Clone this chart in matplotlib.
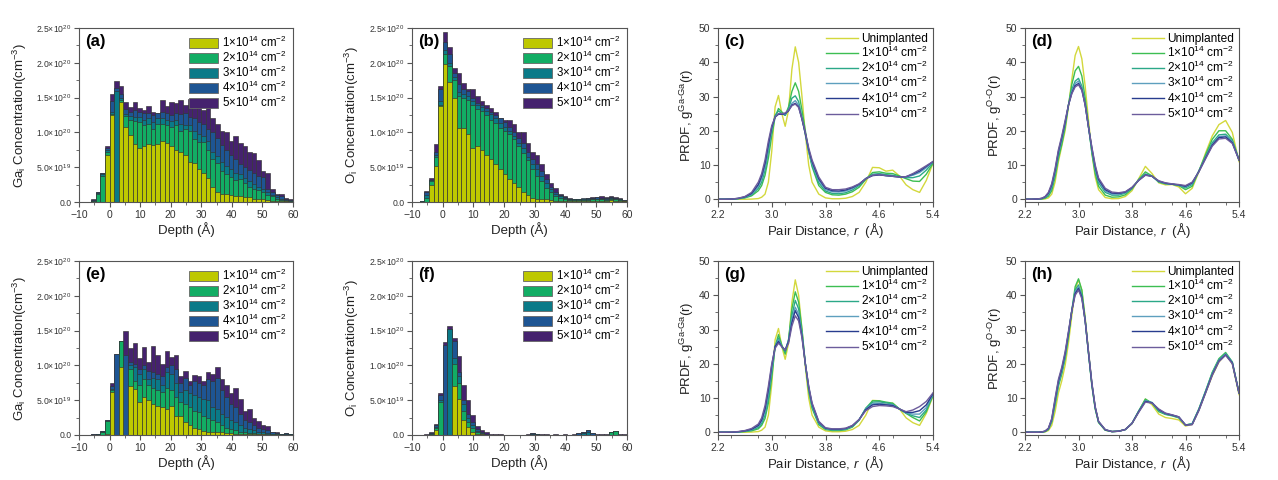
import numpy as np
import matplotlib.pyplot as plt
from matplotlib.ticker import MultipleLocator
from matplotlib.patches import Patch

plt.rcParams['font.family'] = ['Liberation Sans', 'DejaVu Sans']
plt.rcParams['mathtext.fontset'] = 'custom'
plt.rcParams['mathtext.rm'] = 'Liberation Sans'
plt.rcParams['mathtext.it'] = 'Liberation Sans:italic'
plt.rcParams['mathtext.bf'] = 'Liberation Sans:bold'

# ---- depth histogram data (units of 1e20 cm^-3), bins of 1.5 A ----
depth = np.arange(-6.75, 60, 1.5)

a_1 = [0, 0, 0, 0, 0.67, 1.25, 0, 1.44, 1.08, 0.96,
       0.84, 0.78, 0.80, 0.83, 0.82, 0.84, 0.87, 0.85, 0.80, 0.75,
       0.72, 0.68, 0.57, 0.56, 0.47, 0.42, 0.34, 0.22, 0.14, 0.12,
       0.11, 0.10, 0.09, 0.08, 0.07, 0.07, 0.05, 0.04, 0.04, 0.03,
       0.02, 0.02, 0.01, 0.01, 0.0]
a_2 = [0, 0.01, 0.12, 0.38, 0.72, 1.27, 0, 1.46, 1.24, 1.18,
       1.17, 1.15, 1.10, 1.12, 1.05, 1.12, 1.12, 1.10, 1.08, 1.10,
       1.02, 1.05, 1.02, 0.90, 0.86, 0.86, 0.75, 0.62, 0.56, 0.45,
       0.40, 0.36, 0.32, 0.33, 0.28, 0.22, 0.18, 0.17, 0.14, 0.10,
       0.08, 0.05, 0.03, 0.02, 0.01]
a_3 = [0, 0.02, 0.13, 0.40, 0.75, 1.30, 1.60, 1.50, 1.27, 1.24,
       1.22, 1.22, 1.18, 1.20, 1.15, 1.20, 1.20, 1.18, 1.16, 1.18,
       1.12, 1.10, 1.10, 1.02, 0.98, 0.95, 0.88, 0.72, 0.66, 0.58,
       0.52, 0.48, 0.42, 0.40, 0.35, 0.30, 0.26, 0.22, 0.18, 0.14,
       0.10, 0.07, 0.05, 0.03, 0.02]
a_4 = [0, 0.03, 0.14, 0.41, 0.78, 1.45, 1.64, 1.55, 1.33, 1.30,
       1.32, 1.30, 1.28, 1.28, 1.25, 1.28, 1.30, 1.28, 1.25, 1.28,
       1.26, 1.28, 1.22, 1.20, 1.15, 1.12, 1.05, 1.00, 0.92, 0.82,
       0.75, 0.68, 0.62, 0.55, 0.50, 0.46, 0.42, 0.38, 0.36, 0.18,
       0.14, 0.10, 0.08, 0.05, 0.03]
a_5 = [0, 0.04, 0.15, 0.42, 0.81, 1.55, 1.74, 1.66, 1.44, 1.36,
       1.43, 1.35, 1.32, 1.38, 1.30, 1.28, 1.47, 1.38, 1.44, 1.42,
       1.47, 1.40, 1.48, 1.35, 1.46, 1.32, 1.42, 1.20, 1.12, 1.02,
       1.00, 0.88, 0.95, 0.85, 0.80, 0.72, 0.70, 0.60, 0.45, 0.42,
       0.18, 0.12, 0.12, 0.06, 0.04]

b_1 = [0, 0, 0.25, 0.52, 1.38, 1.98, 1.72, 1.50, 1.07, 1.07,
       0.97, 0.78, 0.80, 0.75, 0.68, 0.62, 0.55, 0.47, 0.40, 0.33,
       0.27, 0.21, 0.15, 0.10, 0.06, 0.05, 0.05, 0.04, 0.03, 0.02,
       0.02, 0.01, 0.02, 0.01, 0.01, 0.01, 0.01, 0.01, 0.02, 0.01,
       0.02, 0.03, 0.02, 0.01, 0.01]
b_2 = [0, 0.06, 0.30, 0.64, 1.40, 2.12, 1.95, 1.76, 1.53, 1.50,
       1.47, 1.40, 1.33, 1.31, 1.25, 1.18, 1.13, 1.06, 1.02, 0.98,
       0.90, 0.80, 0.70, 0.60, 0.48, 0.38, 0.30, 0.20, 0.14, 0.09,
       0.06, 0.04, 0.03, 0.03, 0.03, 0.03, 0.03, 0.04, 0.04, 0.04,
       0.03, 0.05, 0.04, 0.03, 0.02]
b_3 = [0.01, 0.10, 0.31, 0.68, 1.45, 2.18, 2.00, 1.80, 1.58, 1.55,
       1.52, 1.45, 1.40, 1.36, 1.31, 1.26, 1.20, 1.14, 1.08, 1.02,
       0.95, 0.85, 0.78, 0.65, 0.55, 0.48, 0.38, 0.28, 0.18, 0.12,
       0.08, 0.06, 0.04, 0.04, 0.04, 0.04, 0.04, 0.05, 0.05, 0.05,
       0.04, 0.06, 0.05, 0.04, 0.02]
b_4 = [0.02, 0.14, 0.32, 0.72, 1.62, 2.30, 2.12, 1.85, 1.70, 1.62,
       1.60, 1.50, 1.42, 1.40, 1.35, 1.30, 1.25, 1.20, 1.15, 1.08,
       1.00, 0.92, 0.85, 0.72, 0.62, 0.55, 0.45, 0.33, 0.22, 0.15,
       0.10, 0.07, 0.05, 0.05, 0.05, 0.06, 0.06, 0.06, 0.07, 0.06,
       0.06, 0.07, 0.06, 0.05, 0.03]
b_5 = [0.02, 0.16, 0.35, 0.83, 1.66, 2.44, 2.23, 1.92, 1.85, 1.71,
       1.62, 1.62, 1.52, 1.45, 1.40, 1.35, 1.30, 1.20, 1.18, 1.18,
       1.12, 1.00, 1.00, 0.85, 0.72, 0.68, 0.55, 0.40, 0.28, 0.20,
       0.12, 0.08, 0.06, 0.05, 0.05, 0.05, 0.06, 0.07, 0.07, 0.08,
       0.07, 0.09, 0.07, 0.06, 0.03]

e_1 = [0, 0, 0, 0, 0.02, 0.62, 0, 0.97, 0, 0.70,
       0.66, 0.48, 0.55, 0.50, 0.45, 0.42, 0.40, 0.38, 0.42, 0.28,
       0.28, 0.18, 0.14, 0.10, 0.08, 0.06, 0.05, 0.05, 0.05, 0.04,
       0.03, 0.03, 0.02, 0.02, 0.01, 0.01, 0.01, 0.01, 0.01, 0.0,
       0.0, 0.0, 0.0, 0.0, 0.0]
e_2 = [0, 0, 0, 0.05, 0.20, 0.64, 0, 1.35, 0, 0.95,
       0.78, 0.72, 0.80, 0.72, 0.68, 0.65, 0.62, 0.68, 0.65, 0.55,
       0.48, 0.45, 0.40, 0.35, 0.33, 0.28, 0.25, 0.22, 0.18, 0.15,
       0.10, 0.08, 0.07, 0.05, 0.04, 0.03, 0.03, 0.02, 0.02, 0.02,
       0.01, 0.01, 0.0, 0.0, 0.0]
e_3 = [0, 0, 0.01, 0.05, 0.20, 0.66, 0, 1.35, 0, 1.00,
       0.98, 0.88, 0.95, 0.80, 0.82, 0.80, 0.72, 0.90, 0.88, 0.75,
       0.62, 0.65, 0.60, 0.58, 0.55, 0.52, 0.50, 0.40, 0.38, 0.30,
       0.26, 0.22, 0.18, 0.15, 0.10, 0.08, 0.07, 0.05, 0.04, 0.03,
       0.02, 0.01, 0.01, 0.01, 0.01]
e_4 = [0, 0.01, 0.02, 0.06, 0.21, 0.70, 1.17, 1.35, 1.15, 1.05,
       1.02, 0.95, 1.00, 0.92, 0.90, 0.88, 0.85, 0.98, 1.00, 0.95,
       0.75, 0.82, 0.72, 0.78, 0.75, 0.72, 0.80, 0.78, 0.82, 0.65,
       0.55, 0.45, 0.40, 0.30, 0.22, 0.18, 0.14, 0.10, 0.08, 0.07,
       0.04, 0.03, 0.02, 0.03, 0.02]
e_5 = [0, 0.01, 0.02, 0.06, 0.22, 0.74, 1.17, 1.35, 1.49, 1.25,
       1.32, 1.10, 1.27, 1.05, 1.28, 1.15, 1.02, 1.20, 1.12, 1.15,
       0.85, 0.92, 0.78, 0.86, 0.85, 0.78, 0.90, 0.88, 0.97, 0.80,
       0.72, 0.60, 0.68, 0.52, 0.35, 0.38, 0.25, 0.20, 0.14, 0.13,
       0.05, 0.04, 0.02, 0.03, 0.02]

f_1 = [0, 0, 0, 0.07, 0, 0, 0, 0.70, 0.52, 0.22,
       0.12, 0.05, 0.02, 0.01, 0, 0, 0, 0, 0, 0,
       0, 0, 0, 0, 0, 0, 0, 0, 0, 0,
       0, 0, 0, 0, 0, 0, 0, 0, 0, 0,
       0, 0, 0, 0, 0]
f_2 = [0, 0, 0.02, 0.10, 0.48, 0, 0, 1.02, 0.75, 0.35,
       0.18, 0.10, 0.04, 0.02, 0, 0, 0, 0, 0, 0,
       0, 0, 0, 0, 0, 0, 0, 0, 0, 0,
       0, 0, 0, 0, 0, 0, 0, 0, 0, 0,
       0, 0.05, 0.06, 0, 0]
f_3 = [0, 0, 0.02, 0.12, 0.50, 0, 1.52, 1.10, 0.85, 0.45,
       0.25, 0.14, 0.06, 0.03, 0, 0, 0, 0, 0, 0,
       0, 0, 0, 0, 0.02, 0.02, 0, 0, 0, 0,
       0, 0, 0, 0, 0, 0.03, 0.04, 0, 0, 0,
       0, 0.05, 0.06, 0, 0]
f_4 = [0, 0, 0.03, 0.14, 0.58, 1.30, 1.53, 1.35, 0.90, 0.50,
       0.30, 0.18, 0.08, 0.04, 0.02, 0, 0, 0, 0, 0,
       0, 0, 0, 0, 0.03, 0.02, 0, 0, 0, 0,
       0, 0, 0, 0, 0.03, 0.05, 0.07, 0.03, 0, 0,
       0, 0.05, 0.06, 0, 0]
f_5 = [0, 0.01, 0.04, 0.16, 0.61, 1.34, 1.56, 1.39, 1.13, 0.72,
       0.50, 0.29, 0.13, 0.07, 0.05, 0.02, 0.01, 0.01, 0, 0,
       0, 0, 0, 0.02, 0.03, 0.02, 0.01, 0.01, 0, 0.01,
       0, 0.01, 0, 0.01, 0.03, 0.05, 0.07, 0.03, 0.01, 0.02,
       0.01, 0.05, 0.06, 0.02, 0.01]

# ---- PRDF data ----
r_gaga = [2.2, 2.3, 2.4, 2.5, 2.6, 2.7, 2.8,
          2.85, 2.9, 2.95, 3.0, 3.05, 3.1, 3.15, 3.2, 3.25, 3.3, 3.35, 3.4, 3.45, 3.5, 3.55, 3.6,
          3.7, 3.8, 3.9, 4.0, 4.1, 4.2, 4.3, 4.4, 4.5, 4.6, 4.7, 4.8, 4.9, 5.0, 5.1, 5.2, 5.3, 5.4]

gaga_unimp = [0, 0, 0, 0, 0, 0.05, 0.2,
              0.6, 1.5, 5, 14, 27, 30.3, 25, 21.3, 26, 38, 44.5, 40, 30, 19, 10, 5,
              1.5, 0.4, 0.15, 0.15, 0.3, 0.8, 2, 5, 9.3, 9.2, 8.2, 8.5, 6.8, 4.2, 2.8, 2.0, 5.5, 10.5]
c_1 = [0, 0, 0, 0.15, 0.4, 1.0, 2.5,
       4, 7, 12, 18.5, 24, 26.5, 25.5, 24.5, 27, 31.5, 34, 31.5, 26, 20, 14, 9.5,
       4, 2, 1.3, 1.2, 1.5, 2.2, 3.5, 5.8, 7.8, 8.0, 7.6, 7.5, 6.8, 6.0, 5.3, 5.2, 7.3, 10.5]
c_2 = [0, 0, 0.05, 0.2, 0.5, 1.3, 3.2,
       5, 8.5, 14, 20, 24.5, 25.8, 25, 24.5, 26.5, 29.5, 30.2, 28.5, 24, 19, 14, 10,
       4.8, 2.4, 1.7, 1.6, 1.9, 2.7, 4, 6, 7.3, 7.5, 7.2, 7.0, 6.6, 6.3, 6.3, 6.8, 8.5, 10.8]
c_3 = [0, 0, 0.05, 0.2, 0.6, 1.5, 3.8,
       6, 9.5, 15, 20.5, 24, 25, 24.8, 24.8, 26, 28, 28.8, 27.5, 23.5, 19, 14, 10.5,
       5.5, 2.8, 2.2, 2.1, 2.4, 3.1, 4.3, 6.1, 7.0, 7.2, 6.9, 6.7, 6.5, 6.5, 7, 7.8, 9.2, 11]
c_4 = [0, 0, 0.05, 0.25, 0.7, 1.7, 4.3,
       6.8, 10.5, 16, 21, 24, 24.8, 24.8, 25, 25.8, 27.5, 28, 27, 23.3, 19.2, 14.5, 11,
       6, 3.2, 2.5, 2.4, 2.7, 3.4, 4.4, 6, 6.9, 7.1, 6.9, 6.7, 6.5, 6.6, 7.3, 8.2, 9.6, 11]
c_5 = [0, 0, 0.05, 0.3, 0.8, 2.0, 5,
       7.5, 11.5, 17, 21.5, 24, 25, 25, 25.2, 26, 27.3, 27.8, 26.8, 23.5, 19.5, 15, 11.5,
       6.5, 3.5, 2.8, 2.8, 3, 3.6, 4.5, 6, 7, 7.2, 6.9, 6.7, 6.5, 6.6, 7.5, 8.6, 9.8, 11]

g_1 = [0, 0, 0, 0.05, 0.2, 0.4, 1.0,
       2, 4, 8.5, 16, 25, 28.5, 25.5, 22.8, 27, 36, 41, 38, 30, 20, 12, 7,
       2.2, 0.8, 0.5, 0.5, 0.7, 1.5, 3.5, 7, 9.2, 9.2, 8.8, 8.5, 6.8, 5.5, 4.3, 3.3, 6, 10.8]
g_2 = [0, 0, 0, 0.1, 0.3, 0.6, 1.4,
       2.6, 5, 10, 17.5, 25, 27.5, 25, 23.5, 27, 34, 38.5, 36, 29, 20, 12.5, 7.5,
       2.5, 1.0, 0.7, 0.7, 0.9, 1.7, 3.6, 7, 8.8, 8.9, 8.6, 8.2, 6.8, 5.6, 4.8, 4.3, 6.5, 11]
g_3 = [0, 0, 0, 0.1, 0.35, 0.8, 1.8,
       3.2, 6, 11.5, 18.5, 25, 27, 25, 24, 26.8, 33, 36.5, 34.5, 28.5, 20, 13, 8,
       2.8, 1.1, 0.8, 0.8, 1, 1.8, 3.7, 6.8, 8.3, 8.5, 8.2, 8, 6.8, 5.7, 5.3, 5.3, 7.2, 11.2]
g_4 = [0, 0, 0, 0.15, 0.4, 0.9, 2,
       3.6, 6.8, 12.5, 19.5, 25, 26.5, 25, 24, 26.5, 32, 35.5, 33.5, 28, 20, 13.2, 8.3,
       3, 1.2, 0.9, 0.9, 1.1, 1.9, 3.7, 6.6, 8, 8.2, 8, 7.8, 6.8, 5.8, 5.8, 6.3, 8, 11.3]
g_5 = [0, 0, 0.05, 0.2, 0.5, 1.1, 2.4,
       4.2, 7.8, 13.5, 20, 24.5, 26, 25, 24, 26, 31, 34, 32.5, 27.5, 20, 13.5, 8.6,
       3.2, 1.3, 1.0, 1.0, 1.2, 2, 3.7, 6.3, 7.5, 7.8, 7.7, 7.5, 6.8, 6, 6.5, 7.5, 9, 11.5]

r_oo = [2.2, 2.3, 2.4, 2.45, 2.5, 2.55, 2.6, 2.65, 2.7, 2.75, 2.8, 2.85, 2.9, 2.95, 3.0,
        3.05, 3.1, 3.15, 3.2, 3.25, 3.3,
        3.4, 3.5, 3.6, 3.7, 3.8, 3.9, 4.0, 4.1, 4.2, 4.3, 4.4, 4.5, 4.6, 4.7, 4.8, 4.9, 5.0,
        5.1, 5.2, 5.3, 5.4]

d_unimp = [0, 0, 0, 0, 0.1, 0.4, 1.5, 5, 11, 15.5, 20, 27, 35, 42, 44.6, 41, 33, 23, 13.5, 6.5, 2.8,
           0.5, 0.15, 0.2, 0.8, 2.5, 6, 9.6, 7.5, 4.8, 4.2, 4.3, 3.6, 1.6, 3.2, 8, 13.5, 18.5, 21.8, 23, 19.5, 11]
d_1 = [0, 0, 0.05, 0.1, 0.3, 0.9, 2.5, 6.5, 12, 16, 21, 27.5, 33.5, 37.5, 38.8, 36, 29.5, 21.5, 13.5, 7.5, 3.8,
       1.2, 0.6, 0.7, 1.3, 3, 5.8, 8, 6.8, 5, 4.5, 4.4, 4, 2.8, 3.8, 8.3, 13, 17.5, 20, 20, 17.5, 11.5]
d_2 = [0, 0, 0.05, 0.15, 0.5, 1.3, 3.3, 7.5, 13, 17, 22, 27.5, 32, 34.5, 35.3, 33, 28, 21, 14, 8.5, 4.8,
       2, 1.2, 1.2, 1.8, 3.2, 5.7, 7.4, 6.7, 5.1, 4.6, 4.4, 4.1, 3.3, 4.3, 8.2, 12.5, 16.5, 18.8, 19, 17, 11.5]
d_3 = [0, 0, 0.08, 0.2, 0.6, 1.5, 3.8, 8, 13.5, 17.5, 22, 27.5, 31.5, 33.8, 34.5, 32.5, 27.5, 21, 14.5, 9, 5.3,
       2.4, 1.5, 1.5, 2, 3.3, 5.6, 7.2, 6.7, 5.2, 4.6, 4.4, 4.1, 3.6, 4.6, 8.2, 12.2, 16, 18.3, 18.5, 16.8, 11.5]
d_4 = [0, 0, 0.1, 0.25, 0.7, 1.8, 4.2, 8.5, 14, 18, 22.5, 27.5, 31, 33.2, 33.8, 32, 27.5, 21, 15, 9.5, 5.8,
       2.8, 1.8, 1.7, 2.1, 3.4, 5.5, 7.1, 6.7, 5.3, 4.7, 4.4, 4.2, 3.8, 4.8, 8.1, 12, 15.8, 18, 18.2, 16.5, 11.5]
d_5 = [0, 0.02, 0.12, 0.3, 0.8, 2, 4.6, 9, 14.5, 18.5, 23, 27.5, 30.8, 32.8, 33.4, 31.8, 27.5, 21, 15.2, 10, 6.2,
       3.2, 2.1, 1.9, 2.2, 3.5, 5.5, 7, 6.7, 5.4, 4.8, 4.5, 4.3, 4, 5, 8, 11.8, 15.5, 17.6, 17.8, 16.3, 11.5]

h_unimp = [0, 0, 0, 0, 0.1, 0.5, 2, 6, 11.5, 15, 19.5, 26, 34, 41.5, 44.5, 41.5, 33.5, 23.5, 14, 7, 3,
           0.6, 0.2, 0.3, 0.8, 2.5, 6, 9.7, 8, 5.3, 4.3, 4, 3.6, 1.8, 2.3, 6.5, 11.5, 16.5, 20.5, 22.8, 20, 11]
h_1 = [0, 0, 0, 0.05, 0.2, 0.8, 3, 8, 13.5, 17, 21.5, 28, 35.5, 42.5, 44.8, 41.5, 33, 23, 13.5, 6.8, 2.8,
       0.6, 0.2, 0.3, 0.8, 2.6, 6.2, 9.7, 8.5, 6, 5.2, 4.8, 4.2, 2.1, 2.5, 6.8, 12, 17.5, 21.5, 23.3, 20.5, 11.5]
h_2 = [0, 0, 0, 0.05, 0.25, 0.9, 3.3, 8.5, 14, 17.5, 22, 28.5, 35.5, 41.5, 43, 40, 32.5, 23, 14, 7, 3,
       0.7, 0.2, 0.3, 0.8, 2.6, 6.2, 9.3, 8.6, 6.3, 5.3, 4.9, 4.3, 2.1, 2.5, 6.8, 12, 17.3, 21.2, 23, 20.5, 11.5]
h_3 = [0, 0, 0, 0.05, 0.3, 1, 3.5, 9, 14.5, 18, 22.5, 29, 35.5, 41, 42.5, 39.5, 32.5, 23, 14, 7.2, 3.1,
       0.7, 0.2, 0.3, 0.8, 2.6, 6, 9.2, 8.7, 6.5, 5.4, 5, 4.4, 2.1, 2.4, 6.6, 11.8, 17, 21, 22.8, 20.3, 11.5]
h_4 = [0, 0, 0, 0.08, 0.3, 1.1, 3.8, 9.5, 15, 18.5, 23, 29, 35.5, 40.5, 42, 39.5, 32.5, 23.2, 14.2, 7.3, 3.1,
       0.7, 0.2, 0.3, 0.8, 2.6, 6, 9, 8.6, 6.6, 5.5, 5, 4.5, 2.1, 2.3, 6.5, 11.6, 16.8, 20.8, 22.6, 20.2, 11.5]
h_5 = [0, 0, 0, 0.1, 0.35, 1.2, 4, 10, 15.5, 19, 23.5, 29.5, 35.5, 40, 41.5, 39, 32.5, 23.5, 14.5, 7.5, 3.2,
       0.8, 0.2, 0.3, 0.8, 2.6, 5.8, 8.8, 8.5, 6.8, 5.6, 5.1, 4.5, 2.1, 2.2, 6.3, 11.4, 16.6, 20.6, 22.5, 20, 11.5]

dose_labels = ['1×10$^{14}$ cm$^{-2}$', '2×10$^{14}$ cm$^{-2}$', '3×10$^{14}$ cm$^{-2}$',
               '4×10$^{14}$ cm$^{-2}$', '5×10$^{14}$ cm$^{-2}$']
prdf_labels = ['Unimplanted'] + dose_labels
conc_ticks = [0, 0.5e20, 1.0e20, 1.5e20, 2.0e20, 2.5e20]
conc_ticklabels = ['0.0', '5.0×10$^{19}$', '1.0×10$^{20}$', '1.5×10$^{20}$',
                   '2.0×10$^{20}$', '2.5×10$^{20}$']

bar_colors = ['#BEC800', '#12AD64', '#0A7A88', '#1E5593', '#45226E']
line_colors = ['#D3D83C', '#3DBE52', '#2BA888', '#5E9FBE', '#283C8E', '#6C5C9C']
edge = '#333333'

fig = plt.figure(figsize=(12.78, 4.8), dpi=100)
W, H = 1278, 480


def make_ax(left, top, right, bottom):
    return fig.add_axes([left / W, 1 - bottom / H, (right - left) / W, (bottom - top) / H])


def style(ax):
    for s in ax.spines.values():
        s.set_color('#555555')
        s.set_linewidth(0.8)
    ax.tick_params(which='both', direction='out', colors='#555555', top=False, right=False)
    ax.tick_params(which='major', length=3.5, width=0.8, labelcolor='#333333')
    ax.tick_params(which='minor', length=2, width=0.6)


def hist_panel(ax, series, letter, ylabel):
    for vals, col in reversed(list(zip(series, bar_colors))):
        ax.bar(depth, np.array(vals) * 1e20, width=1.5, color=col, edgecolor=edge, linewidth=0.45)
    ax.set_xlim(-10, 60)
    ax.set_ylim(0, 2.5e20)
    ax.set_xticks(range(-10, 61, 10))
    ax.xaxis.set_minor_locator(MultipleLocator(5))
    ax.set_yticks(conc_ticks)
    ax.set_yticklabels(conc_ticklabels)
    ax.yaxis.set_minor_locator(MultipleLocator(0.25e20))
    style(ax)
    ax.tick_params(axis='x', labelsize=7.5, pad=2)
    ax.tick_params(axis='y', labelsize=6.2, pad=2)
    ax.set_xlabel('Depth (Å)', fontsize=9.5, color='#222222', labelpad=2)
    ax.set_ylabel(ylabel, fontsize=9.5, color='#222222')
    ax.yaxis.set_label_coords(-0.235, 0.5)
    handles = [Patch(facecolor=c, edgecolor='#666666', linewidth=0.6) for c in bar_colors]
    ax.legend(handles, dose_labels, loc='upper right', frameon=False, fontsize=8.3,
              handlelength=2.5, handleheight=0.95, labelspacing=0.0, handletextpad=0.35,
              borderaxespad=0.25, borderpad=0.3)
    ax.text(0.03, 0.965, letter, transform=ax.transAxes, fontsize=12, fontweight='bold',
            va='top', ha='left')


def prdf_panel(ax, r, curves, letter, ylabel):
    for vals, col, lab in zip(curves, line_colors, prdf_labels):
        ax.plot(r, vals, color=col, lw=1.0, label=lab)
    ax.set_xlim(2.2, 5.4)
    ax.set_ylim(-0.8, 50)
    ax.set_xticks([2.2, 3.0, 3.8, 4.6, 5.4])
    ax.xaxis.set_minor_locator(MultipleLocator(0.4))
    ax.set_yticks(range(0, 51, 10))
    ax.yaxis.set_minor_locator(MultipleLocator(5))
    style(ax)
    ax.tick_params(labelsize=7.5, pad=2)
    ax.set_xlabel('Pair Distance, $r$  (Å)', fontsize=9.5, color='#222222', labelpad=1)
    ax.set_ylabel(ylabel, fontsize=9.5, color='#222222')
    ax.yaxis.set_label_coords(-0.1, 0.5)
    ax.legend(loc='upper right', frameon=False, fontsize=8.6, handlelength=2.7,
              labelspacing=0.0, handletextpad=0.3, borderaxespad=0.2, borderpad=0.2)
    ax.text(0.03, 0.965, letter, transform=ax.transAxes, fontsize=12, fontweight='bold',
            va='top', ha='left')


ga_label = 'Ga$_\\mathrm{i}$ Concentration(cm$^{-3}$)'
o_label = 'O$_\\mathrm{i}$ Concentration(cm$^{-3}$)'
gaga_label = 'PRDF, g$^{\\mathrm{Ga\\text{-}Ga}}$(r)'
oo_label = 'PRDF, g$^{\\mathrm{O\\text{-}O}}$(r)'

top_row = (28, 202)
bot_row = (261, 435)

ax = make_ax(79, top_row[0], 293, top_row[1])
hist_panel(ax, [a_1, a_2, a_3, a_4, a_5], '(a)', ga_label)
ax = make_ax(412, top_row[0], 627, top_row[1])
hist_panel(ax, [b_1, b_2, b_3, b_4, b_5], '(b)', o_label)
ax = make_ax(718, top_row[0], 933, top_row[1])
prdf_panel(ax, r_gaga, [gaga_unimp, c_1, c_2, c_3, c_4, c_5], '(c)', gaga_label)
ax = make_ax(1025, top_row[0], 1239, top_row[1])
prdf_panel(ax, r_oo, [d_unimp, d_1, d_2, d_3, d_4, d_5], '(d)', oo_label)

ax = make_ax(79, bot_row[0], 293, bot_row[1])
hist_panel(ax, [e_1, e_2, e_3, e_4, e_5], '(e)', ga_label)
ax = make_ax(412, bot_row[0], 627, bot_row[1])
hist_panel(ax, [f_1, f_2, f_3, f_4, f_5], '(f)', o_label)
ax = make_ax(718, bot_row[0], 933, bot_row[1])
prdf_panel(ax, r_gaga, [gaga_unimp, g_1, g_2, g_3, g_4, g_5], '(g)', gaga_label)
ax = make_ax(1025, bot_row[0], 1239, bot_row[1])
prdf_panel(ax, r_oo, [h_unimp, h_1, h_2, h_3, h_4, h_5], '(h)', oo_label)

fig.savefig('out.png', dpi=100, facecolor='white')
plt.close(fig)
